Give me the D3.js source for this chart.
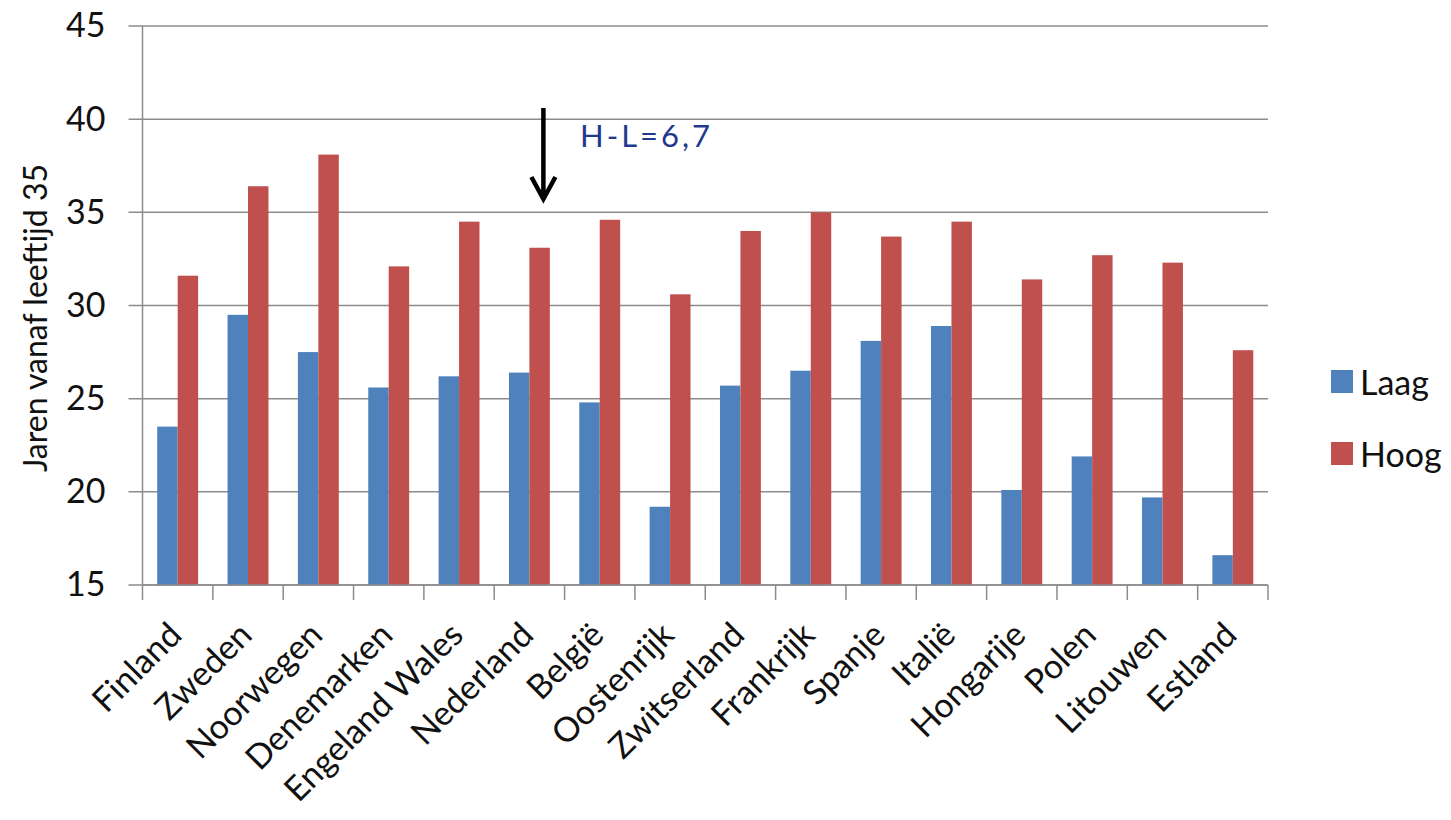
<!DOCTYPE html>
<html>
<head>
<meta charset="UTF-8">
<title>Jaren vanaf leeftijd 35</title>
<script src="https://d3js.org/d3.v7.min.js"></script>
<style>
  body { margin: 0; background: white; }
  text { font-family: Lato, "Open Sans", sans-serif; fill: #111; }
</style>
</head>
<body>
<svg id="chart" width="1451" height="820"></svg>
<script>
const landen = ["Finland","Zweden","Noorwegen","Denemarken","Engeland Wales","Nederland","België","Oostenrijk","Zwitserland","Frankrijk","Spanje","Italië","Hongarije","Polen","Litouwen","Estland"];
const laag = [23.5,29.5,27.5,25.6,26.2,26.4,24.8,19.2,25.7,26.5,28.1,28.9,20.1,21.9,19.7,16.6];
const hoog = [31.6,36.4,38.1,32.1,34.5,33.1,34.6,30.6,34.0,35.0,33.7,34.5,31.4,32.7,32.3,27.6];
const yTicks = [15,20,25,30,35,40,45];
const reeksen = ["Laag","Hoog"];
const kleuren = ["#4f81bd","#c0504d"];

var svg = d3.select("#chart");
var margin = {top: 26, left: 142.5, right: 183, bottom: 235};
var width = 1451, height = 820;
var chartWidth = width - margin.left - margin.right;
var chartHeight = height - margin.top - margin.bottom;

var x = d3.scaleBand().domain(landen).range([0, chartWidth]).paddingInner(0).paddingOuter(0);
var x1 = d3.scaleBand().domain(reeksen).range([0, x.bandwidth()]).paddingInner(0).paddingOuter(0.72);
var y = d3.scaleLinear().domain([15,45]).range([chartHeight, 0]);

var g = svg.append("g").attr("transform","translate("+margin.left+","+margin.top+")");

// gridlines
g.selectAll("line.grid").data(yTicks).enter().append("line")
  .attr("x1", -14).attr("x2", chartWidth)
  .attr("y1", d => y(d)).attr("y2", d => y(d))
  .style("stroke","#8c8c8c").style("stroke-width",1.5);

// y axis
var leftAxis = d3.axisLeft(y).tickValues(yTicks).tickSize(0).tickPadding(37);
var yAx = g.append("g").call(leftAxis);
yAx.select(".domain").remove();
yAx.selectAll("text").style("font-size","34px").style("fill","#111").style("font-family","Lato, sans-serif");
g.append("line").attr("x1",0).attr("x2",0).attr("y1",0).attr("y2",chartHeight)
  .style("stroke","#8c8c8c").style("stroke-width",1.5);

// bars
var groups = g.selectAll("g.land").data(landen).enter().append("g")
  .attr("transform", d => "translate("+x(d)+",0)");
groups.append("rect")
  .attr("x", x1("Laag")).attr("width", x1.bandwidth())
  .attr("y", (d,i) => y(laag[i])).attr("height", (d,i) => chartHeight - y(laag[i]))
  .style("fill", kleuren[0]);
groups.append("rect")
  .attr("x", x1("Hoog")).attr("width", x1.bandwidth())
  .attr("y", (d,i) => y(hoog[i])).attr("height", (d,i) => chartHeight - y(hoog[i]))
  .style("fill", kleuren[1]);

// x axis
var xAx = g.append("g").attr("transform","translate(0,"+chartHeight+")");
xAx.append("line").attr("x1",0).attr("x2",chartWidth).attr("y1",0).attr("y2",0)
  .style("stroke","#8c8c8c").style("stroke-width",1.5);
var ticksX = landen.map(d => x(d)).concat([chartWidth]);
xAx.selectAll("line.tick").data(ticksX).enter().append("line")
  .attr("x1", d => d).attr("x2", d => d).attr("y1",0).attr("y2",15)
  .style("stroke","#8c8c8c").style("stroke-width",1.5);
xAx.selectAll("text.lbl").data(landen).enter().append("text")
  .attr("transform", d => "translate("+(x(d)+x.bandwidth()/2+6)+",52) rotate(-45)")
  .attr("text-anchor","end")
  .style("font-size","34px")
  .text(d => d);

// y axis title
svg.append("text")
  .attr("transform","translate(47,318) rotate(-90)")
  .attr("text-anchor","middle")
  .style("font-size","32px")
  .text("Jaren vanaf leeftijd 35");

// legend
var legend = svg.append("g").attr("transform","translate(1331,0)");
reeksen.forEach((r,i) => {
  legend.append("rect").attr("x",0).attr("y",370 + i*72).attr("width",22).attr("height",23)
    .style("fill",kleuren[i]);
  legend.append("text").attr("x",29).attr("y",395 + i*72)
    .style("font-size","34px").text(r);
});

// annotation
var ax = x("Nederland") + x.bandwidth()/2 + margin.left + 14;
svg.append("path")
  .attr("d","M"+ax+",108 L"+ax+",199 M"+(ax-12)+",177 L"+ax+",199 L"+(ax+12)+",177")
  .style("fill","none").style("stroke","#000").style("stroke-width",4.5);
svg.append("text").attr("x",580).attr("y",147)
  .style("font-size","31px").style("fill","#1f3a8c").style("letter-spacing","3px")
  .text("H-L=6,7");
</script>
</body>
</html>
